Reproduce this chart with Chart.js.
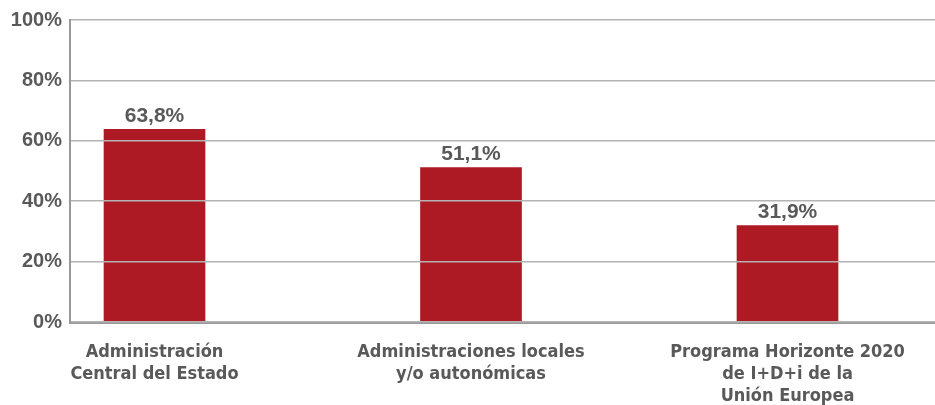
<!DOCTYPE html>
<html>
<head>
<meta charset="utf-8">
<script src="https://cdn.jsdelivr.net/npm/chart.js@4.4.1/dist/chart.umd.min.js"></script>
<style>
  html, body { margin: 0; padding: 0; background: #fff; }
  #wrap { width: 935px; height: 405px; position: relative; }
</style>
</head>
<body>
<div id="wrap"><canvas id="chart"></canvas></div>
<script>
const categories = [
    ["Administración", "Central del Estado"],
    ["Administraciones locales", "y/o autonómicas"],
    ["Programa Horizonte 2020", "de I+D+i de la", "Unión Europea"]
];
const values = [63.8, 51.1, 31.9];
const yTicks = [0, 20, 40, 60, 80, 100];

const textColor = "#595959";
const barColor = "#ae1a23";

// value labels above the bars
const barLabels = {
    id: "barLabels",
    afterDraw(chart) {
        const ctx = chart.ctx;
        const meta = chart.getDatasetMeta(0);
        ctx.save();
        ctx.font = "bold 21px 'Liberation Sans', Arial, sans-serif";
        ctx.fillStyle = textColor;
        ctx.textAlign = "center";
        ctx.textBaseline = "bottom";
        meta.data.forEach((bar, i) => {
            ctx.fillText(values[i].toFixed(1).replace(".", ",") + "%", bar.x, bar.y - 3);
        });
        ctx.restore();
    }
};

function startChart() {
    const ctx = document.getElementById("chart");

    chart = new Chart(ctx, {
        type: "bar",
        data: {
            datasets: [{
                data: values.map((v, i) => ({ x: i, y: v })),
                backgroundColor: barColor,
                barThickness: 101
            }]
        },
        options: {
            responsive: true,
            maintainAspectRatio: false,
            animation: false,
            layout: { padding: { top: 20, right: 0, left: 0, bottom: 0 } },
            plugins: { legend: { display: false }, tooltip: { enabled: false } },
            scales: {
                x: {
                    type: "linear",
                    offset: false,
                    min: -0.267,
                    max: 2.466,
                    afterBuildTicks: (scale) => {
                        scale.ticks = categories.map((c, i) => ({ value: i }));
                    },
                    afterFit: (scale) => {
                        scale.height = 83;
                        scale.paddingLeft = 0;
                        scale.paddingRight = 0;
                    },
                    grid: { display: false, drawTicks: false },
                    border: { color: "#999999", width: 3, z: 1 },
                    ticks: {
                        autoSkip: false,
                        maxRotation: 0,
                        padding: 20,
                        color: textColor,
                        font: { family: "'Liberation Sans Narrow', 'DejaVu Sans Condensed', sans-serif", size: 18, weight: "bold", lineHeight: 1.2 },
                        callback: (v) => categories[v]
                    }
                },
                y: {
                    min: 0,
                    max: 100,
                    afterBuildTicks: (scale) => {
                        scale.ticks = yTicks.map(v => ({ value: v }));
                    },
                    afterFit: (scale) => {
                        scale.width = 70;
                        scale.paddingTop = 0;
                        scale.paddingBottom = 0;
                    },
                    grid: { color: "#b3b3b3", lineWidth: 1.5, drawTicks: false, z: 1 },
                    border: { color: "#999999", width: 2, z: 1 },
                    ticks: {
                        padding: 8,
                        color: textColor,
                        font: { family: "'Liberation Sans', Arial, sans-serif", size: 20, weight: "bold" },
                        callback: (v) => v + "%"
                    }
                }
            }
        },
        plugins: [barLabels]
    });
}

let chart;
document.addEventListener("DOMContentLoaded", () => {
    startChart();
});
</script>
</body>
</html>
